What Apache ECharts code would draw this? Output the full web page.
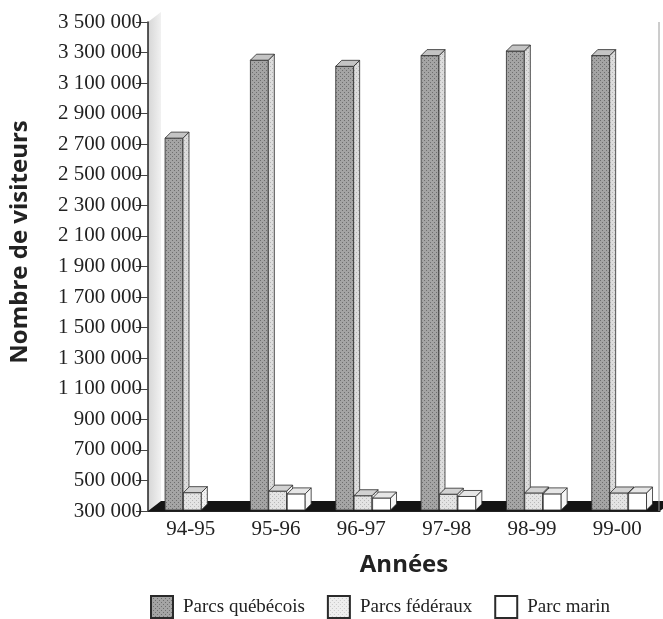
<!DOCTYPE html>
<html>
<head>
<meta charset="utf-8">
<script src="https://cdn.jsdelivr.net/npm/echarts@6/dist/echarts.min.js"></script>
<style>
  html, body { margin: 0; padding: 0; background: #fff; }
  #chart { width: 663px; height: 619px; }
</style>
</head>
<body>
<div id="chart"></div>
<script>
// Fréquentation des parcs, 1994-1995 à 1999-2000
const categories = ['94-95', '95-96', '96-97', '97-98', '98-99', '99-00'];
const parcsQuebecois = [2740000, 3250000, 3210000, 3280000, 3310000, 3280000];
const parcsFederaux = [420000, 430000, 400000, 410000, 418000, 418000];
const parcMarin = [null, 412000, 385000, 395000, 412000, 418000];
const seriesNames = ['Parcs québécois', 'Parcs fédéraux', 'Parc marin'];
const yMin = 300000, yMax = 3500000, yStep = 200000;

const SERIF = '"Liberation Serif", "DejaVu Serif", serif';
const SANS = '"Open Sans", "Noto Sans", sans-serif';

// stippled fill for the faces of the columns
function dotPattern(bg, dot) {
  const c = document.createElement('canvas');
  c.width = 4; c.height = 4;
  const g = c.getContext('2d');
  g.fillStyle = bg; g.fillRect(0, 0, 4, 4);
  g.fillStyle = dot;
  g.fillRect(0, 0, 1, 1);
  g.fillRect(2, 2, 1, 1);
  return { image: c, repeat: 'repeat' };
}

const faces = [
  { front: dotPattern('#a4a4a4', '#6e6e6e'), side: dotPattern('#dcdcdc', '#b4b4b4'), top: '#c4c4c4' },
  { front: dotPattern('#e4e4e4', '#b8b8b8'), side: dotPattern('#f2f2f2', '#d0d0d0'), top: '#d2d2d2' },
  { front: '#ffffff', side: '#f6f6f6', top: '#e6e6e6' }
];
const legendColors = [dotPattern('#a4a4a4', '#6e6e6e'), dotPattern('#eeeeee', '#c8c8c8'), '#ffffff'];

// horizontal placement of each column within its category band (fractions)
const offsets = [0.2, 0.415, 0.632];
const widthFrac = 0.21;
const DX = 6, DY = 6;                // column depth
const FLOOR_DX = 13, FLOOR_DY = 10;  // floor / wall depth

function columnRenderer(k) {
  return function (params, api) {
    const idx = api.value(0);
    const val = api.value(1);
    if (val == null || isNaN(val)) return;
    const top = api.coord([idx, val]);
    const base = api.coord([idx, yMin]);
    const band = api.size([1, 0])[0];
    const x0 = top[0] - band / 2 + offsets[k] * band;
    const w = widthFrac * band;
    const yT = top[1], yB = base[1] - 1;
    const stroke = { stroke: '#2a2a2a', lineWidth: 0.8 };
    return {
      type: 'group',
      children: [
        { type: 'rect', shape: { x: x0, y: yT, width: w, height: yB - yT },
          style: Object.assign({ fill: faces[k].front }, stroke) },
        { type: 'polygon', shape: { points: [[x0 + w, yT], [x0 + w + DX, yT - DY], [x0 + w + DX, yB - DY], [x0 + w, yB]] },
          style: Object.assign({ fill: faces[k].side }, stroke) },
        { type: 'polygon', shape: { points: [[x0, yT], [x0 + DX, yT - DY], [x0 + w + DX, yT - DY], [x0 + w, yT]] },
          style: Object.assign({ fill: faces[k].top }, stroke) }
      ]
    };
  };
}

// floor, left wall and right edge of the plotting area
function frameRenderer(params, api) {
  const cs = params.coordSys;
  const yb = cs.y + cs.height;
  return {
    type: 'group',
    children: [
      { type: 'polygon',
        shape: { points: [[cs.x, cs.y], [cs.x + FLOOR_DX, cs.y - FLOOR_DY], [cs.x + FLOOR_DX, yb - FLOOR_DY], [cs.x, yb]] },
        style: { fill: { type: 'linear', x: 0, y: 0, x2: 1, y2: 0,
          colorStops: [{ offset: 0, color: '#d6d6d6' }, { offset: 1, color: '#f1f1f1' }] } } },
      { type: 'polygon',
        shape: { points: [[cs.x, yb], [cs.x + FLOOR_DX, yb - FLOOR_DY], [cs.x + cs.width + FLOOR_DX, yb - FLOOR_DY], [cs.x + cs.width, yb]] },
        style: { fill: '#141414' } },
      { type: 'line',
        shape: { x1: cs.x + cs.width - 1, y1: cs.y, x2: cs.x + cs.width - 1, y2: yb },
        style: { stroke: '#9a9a9a', lineWidth: 1 } }
    ]
  };
}

function fmt(v) {
  return String(v).replace(/\B(?=(\d{3})+(?!\d))/g, ' ');
}

const chart = echarts.init(document.getElementById('chart'), null, { renderer: 'canvas' });

const barSeries = [parcsQuebecois, parcsFederaux, parcMarin].map((vals, k) => ({
  name: seriesNames[k],
  type: 'custom',
  renderItem: columnRenderer(k),
  encode: { x: 0, y: 1 },
  clip: false,
  z: 3,
  itemStyle: { color: legendColors[k], borderColor: '#2a2a2a', borderWidth: 1 },
  data: vals.map((v, i) => [i, v == null ? '-' : v])
}));

chart.setOption({
  animation: false,
  backgroundColor: '#ffffff',
  grid: { left: 148, right: 3, top: 22, bottom: 108 },
  xAxis: {
    type: 'category',
    data: categories,
    boundaryGap: true,
    name: 'Années',
    nameLocation: 'middle',
    nameGap: 42,
    nameTextStyle: { fontFamily: SANS, fontWeight: 'bold', fontSize: 24, color: '#222' },
    axisLine: { lineStyle: { color: '#222', width: 1.2 } },
    axisTick: { length: 9, lineStyle: { color: '#444' } },
    axisLabel: { fontFamily: SERIF, fontSize: 21, color: '#222', margin: 8 },
    z: 5
  },
  yAxis: {
    type: 'value',
    min: yMin, max: yMax, interval: yStep,
    axisLine: { show: true, lineStyle: { color: '#222', width: 1.5 } },
    axisTick: { show: true, length: 12, lineStyle: { color: '#444' } },
    axisLabel: { fontFamily: SERIF, fontSize: 21, color: '#222', margin: 6, formatter: fmt },
    splitLine: { show: false },
    z: 5
  },
  legend: {
    data: seriesNames,
    top: 590,
    left: 145,
    icon: 'rect',
    itemWidth: 22, itemHeight: 22,
    itemGap: 22,
    textStyle: { fontFamily: SERIF, fontSize: 19, color: '#222', padding: [0, 0, 0, 5] }
  },
  graphic: [{
    type: 'text',
    x: 20, y: 242,
    rotation: Math.PI / 2,
    style: { text: 'Nombre de visiteurs', font: 'bold 24px ' + SANS, fill: '#222',
             textAlign: 'center', textVerticalAlign: 'middle' }
  }],
  series: [{
    type: 'custom',
    name: 'cadre',
    renderItem: frameRenderer,
    data: [[0, yMin]],
    encode: { x: 0, y: 1 },
    clip: false,
    silent: true,
    z: 1
  }].concat(barSeries)
});
</script>
</body>
</html>
